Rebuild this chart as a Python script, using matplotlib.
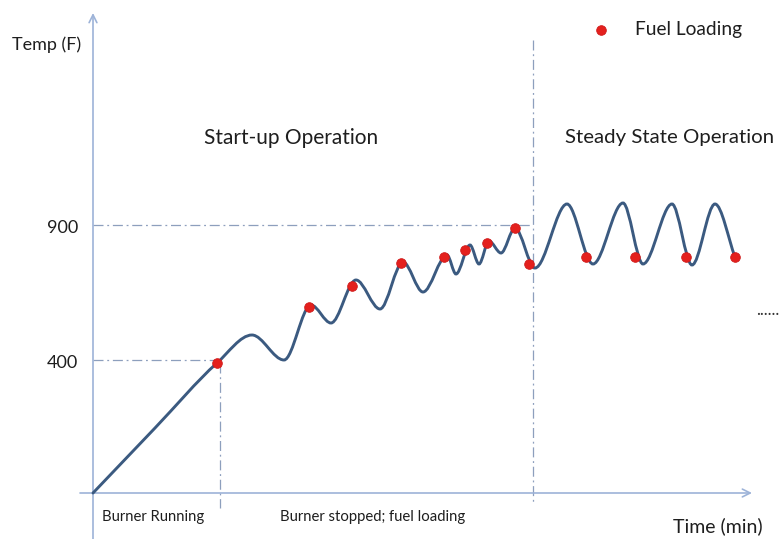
import numpy as np
import matplotlib
matplotlib.use("Agg")
import matplotlib.pyplot as plt
from matplotlib.path import Path
from matplotlib.patches import PathPatch

plt.rcParams['font.family'] = ['Lato', 'DejaVu Sans']

# ---- data (schematic units: time along x, temperature height along y) ----
curve_time = [0, 62, 124, 159, 191, 218, 238, 263, 287, 310, 330, 354, 363,
              377, 386, 396, 408, 422, 442, 474, 500, 530, 550, 579, 599, 622, 642]
curve_temp = [0, 65, 130, 158, 133, 188, 170, 213, 184, 231, 201, 238, 219,
              248, 229, 252, 240, 265, 225, 289, 229, 290, 229, 289, 228, 289, 236]

fuel_time = [124, 216, 259, 308, 351, 372, 394, 422, 436, 493, 542, 593, 642]
fuel_temp = [130, 186, 207, 230, 236, 243, 250, 265, 229, 236, 236, 236, 236]

tick_pos = [133, 268]
tick_labels = ['400', '900']

burner_end_time = 127
steady_start_time = 440

curve_color = '#3b5a80'
marker_color = '#e4201d'
axis_color = '#9db3d8'
guide_color = '#8d9fbd'
text_color = '#1e1e1e'


def pchip_slopes(x, y):
    x = np.asarray(x, float)
    y = np.asarray(y, float)
    h = np.diff(x)
    d = np.diff(y) / h
    m = np.zeros_like(y)
    for i in range(1, len(y) - 1):
        if d[i - 1] * d[i] <= 0:
            m[i] = 0.0
        else:
            w1 = 2 * h[i] + h[i - 1]
            w2 = h[i] + 2 * h[i - 1]
            m[i] = (w1 + w2) / (w1 / d[i - 1] + w2 / d[i])
    m[0] = d[0]
    m[-1] = d[-1]
    return m


def smooth_path(x, y):
    m = pchip_slopes(x, y)
    verts = [(x[0], y[0])]
    codes = [Path.MOVETO]
    for i in range(len(x) - 1):
        h = x[i + 1] - x[i]
        verts += [(x[i] + h / 3, y[i] + m[i] * h / 3),
                  (x[i + 1] - h / 3, y[i + 1] - m[i + 1] * h / 3),
                  (x[i + 1], y[i + 1])]
        codes += [Path.CURVE4] * 3
    return Path(verts, codes)


fig = plt.figure(figsize=(7.83, 5.39), dpi=100)
ax = fig.add_axes([0, 0, 1, 1])
ax.set_xlim(-93, 690)
ax.set_ylim(-46, 493)
ax.axis('off')

# axes with arrows
arrow = dict(arrowstyle='->', color=axis_color, lw=1.2, shrinkA=0, shrinkB=0,
             mutation_scale=14)
ax.annotate('', xy=(659, 0), xytext=(-13, 0), arrowprops=arrow)
ax.annotate('', xy=(0, 480), xytext=(0, -46), arrowprops=arrow)

# guide lines
dd = (0, (8, 3, 1.5, 3))
ax.plot([0, steady_start_time], [tick_pos[1]] * 2, color=guide_color, lw=0.9, ls=dd)
ax.plot([0, burner_end_time], [tick_pos[0]] * 2, color=guide_color, lw=0.9, ls=dd)
ax.plot([burner_end_time] * 2, [130, -15], color=guide_color, lw=0.9, ls=dd)
ax.plot([steady_start_time] * 2, [453, -10], color=guide_color, lw=0.9, ls=dd)

# curve
ax.add_patch(PathPatch(smooth_path(curve_time, curve_temp), fill=False,
                       edgecolor=curve_color, lw=2.1, capstyle='round', zorder=3))

# fuel loading markers
ax.scatter(fuel_time, fuel_temp, s=48, color=marker_color, edgecolors='#cf1a1a',
           linewidths=0.6, zorder=4, label='Fuel Loading')

# tick labels
for p, lab in zip(tick_pos, tick_labels):
    ax.text(-15, p - 3, lab, ha='right', va='center', fontsize=13, color=text_color)

ax.text(-81, 448, 'Temp (F)', ha='left', va='center', fontsize=13, color=text_color)
ax.text(670, -33, 'Time (min)', ha='right', va='center', fontsize=14, color=text_color)
ax.text(198, 355, 'Start-up Operation', ha='center', va='center', fontsize=15, color=text_color)
ax.text(472, 355, 'Steady State Operation', ha='left', va='center', fontsize=14.7, color=text_color)
ax.text(9, -24, 'Burner Running', ha='left', va='center', fontsize=10.7, color=text_color)
ax.text(187, -24, 'Burner stopped; fuel loading', ha='left', va='center', fontsize=10.7, color=text_color)
ax.text(663, 183, '......', ha='left', va='center', fontsize=12, color='#333333')

leg = ax.legend(loc='center left', bbox_to_anchor=(591 / 783, 1 - 30 / 539),
                frameon=False, borderpad=0, borderaxespad=0, handlelength=1,
                handletextpad=1.3, fontsize=13.8, scatterpoints=1)
for t in leg.get_texts():
    t.set_color(text_color)

fig.savefig('out.png', dpi=100)
